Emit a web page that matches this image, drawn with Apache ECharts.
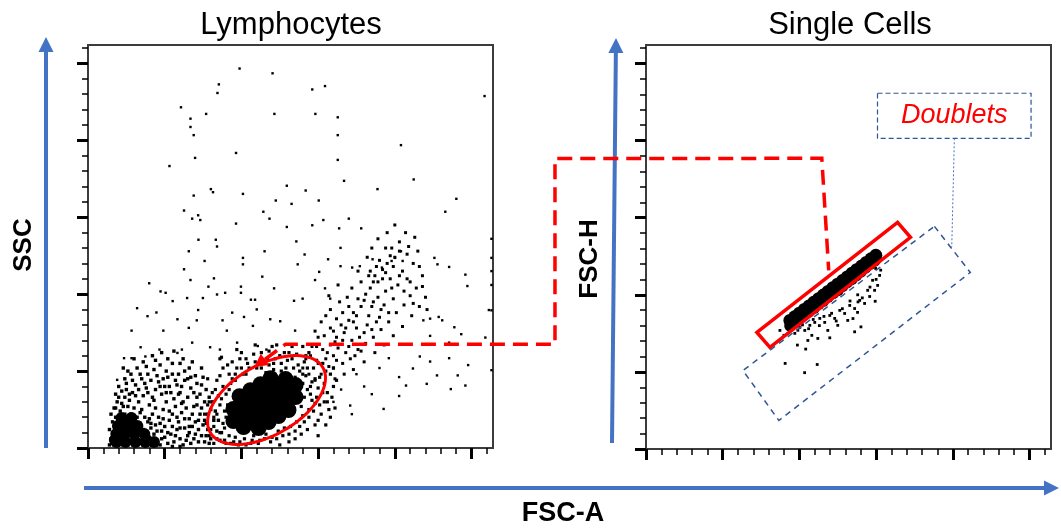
<!DOCTYPE html>
<html><head><meta charset="utf-8">
<script src="https://cdn.jsdelivr.net/npm/echarts@6/dist/echarts.min.js"></script>
<style>html,body{margin:0;padding:0;background:#fff}#c{width:1061px;height:530px}</style>
</head><body><div id="c"></div>
<script>
// ---- axis ticks (K units) ----
const majorTicks = [0, 50, 100, 150, 200, 250];
const minorTicks = [10,20,30,40,60,70,80,90,110,120,130,140,160,170,180,190,210,220,230,240,260];
const axisMaxX = 264, axisMaxY = 262;

// ---- Lymphocytes plot (FSC-A vs SSC) ----
const lymphCore = [[94.8,17.5],[101.4,21.4],[108.6,25.3],[115.1,29.2],[121.6,33.1],[128.8,37.0],[135.3,40.9],
 [101.4,13.6],[108.6,17.5],[115.1,21.4],[121.6,25.3],[128.8,29.2],[135.3,33.1],
 [94.8,25.3],[102.0,29.2],[108.6,33.1],[115.1,37.0],[122.3,40.9],[128.8,44.8],
 [111.2,13.0],[117.7,16.9],[124.2,20.8],[130.7,24.7],[98.8,33.7],[105.9,37.6],[112.5,41.5],[119.0,45.4]];
const debrisCore = [[18.5,3.9],[24.4,3.9],[30.9,3.9],[37.4,3.9],[43.0,3.9],[18.5,9.1],[23.7,9.1],[30.2,9.1],[36.7,9.1],
 [19.5,14.3],[25.7,14.3],[32.2,14.3],[21.8,19.5],[28.3,19.5],[17.5,5.2]];
const debrisHalo = [[14,2],[15,6],[14,12],[16,17],[15,22],[17,26],[19,30],[18,35],[21,24],[22,29],[24,33],[26,27],[28,22],[30,26],[27,31],[25,38],[29,36],[31,41],[33,30],[35,25],[37,20],[39,17],[41,13],[43,9],[45,5],[47,2],[42,3],[44,15],[46,20],[48,11],[50,7],[52,3],[54,9],[56,4],[58,12],[60,6],[62,2],[49,25],[51,30],[53,18],[55,22],[57,27],[59,17],[61,23],[63,13],[65,8],[67,3],[36,34],[38,39],[40,28],[42,33],[44,38],[46,43],[48,35],[50,40],[52,46],[54,36],[56,32],[58,41],[60,36],[62,30],[64,26],[66,19],[68,14],[70,9],[72,4],[35,45],[39,48],[43,51],[47,54],[51,50],[55,55],[59,48],[63,44],[67,39],[71,33],[69,27],[73,22],[75,15],[77,8],[79,3],[20,40],[24,45],[28,48],[32,52],[23,52],[30,58],[36,56],[42,60],[48,62],[56,63],[62,58],[66,52],[70,47],[74,41],[76,30],[80,25],[82,18],[84,11],[86,5],[33,10],[27,8],[21,6],[19,14],[37,6],[34,16],
 [16,10],[18,20],[20,18],[22,12],[24,22],[26,17],[28,14],[29,19],[32,20],[34,23],[36,12],[38,10],[40,7],[40,19],[42,22],[44,26],[45,11],[47,16],[49,19],[50,14],[52,10],[53,24],[55,14],[57,8],[58,20],[60,13],[61,29],[63,19],[64,5],[65,33],[66,10],[68,22],[69,6],[70,17],[71,28],[72,12],[74,8],[74,26],[76,4],[76,18],[78,12],[78,22],[80,6],[18,26],[20,33],[22,37],[23,27],[25,42],[27,35],[29,44],[31,34],[33,38],[34,48],[37,42],[39,36],[41,44],[43,31],[45,47],[47,40],[49,45],[51,36],[53,40],[55,48],[57,44],[59,35],[61,40],[63,50],[65,45],[67,46],[69,36],[71,42],[73,35],[75,46],[77,38],[79,33],[81,30],[83,24],[85,18],[87,10],[89,5],[26,50],[38,53],[44,57],[52,58],[60,55],[68,56],[74,52],[27,4],[32,6],[35,3],[41,16],[48,6],[55,1],[60,1],[66,14],[72,18]];
const lymphHalo = [[80,12],[82,20],[84,6],[86,28],[88,16],[90,3],[90,35],[92,8],[93,42],[95,4],[96,48],[98,2],[100,52],[102,6],[104,55],[106,3],[108,8],[110,52],[112,5],[114,57],[116,9],[118,54],[120,7],[122,58],[124,11],[126,55],[128,13],[130,57],[132,14],[134,52],[136,17],[138,50],[140,21],[142,47],[144,25],[146,43],[148,29],[150,39],[145,35],[141,33],[143,12],[139,9],[135,6],[148,15],[152,22],[154,30],[156,36],[151,46],[147,52],[141,56],[136,61],[128,62],[118,63],[108,61],[99,58],[91,54],[86,47],[83,38],[79,30],[76,22],[78,45],[87,59],[97,64],[109,67],[123,67],[133,66],[144,62],[153,55],[158,48],[160,40],[157,25],[150,8],[131,4],[125,2],[104,13],[98,12],[89,24],[137,40],[140,42],[135,46],[92,48],[96,44],[88,40],[85,34],[121,51],[126,50],[116,49],[103,48],[143,38],[146,31],[139,27],
 [82,14],[84,22],[86,10],[87,32],[89,13],[90,20],[91,28],[92,38],[93,3],[94,45],[96,7],[97,52],[99,4],[101,48],[103,2],[105,52],[107,5],[109,56],[111,3],[113,52],[115,6],[117,58],[119,4],[121,55],[123,6],[125,60],[127,8],[129,52],[131,9],[133,58],[135,11],[137,54],[138,14],[140,48],[141,17],[143,52],[144,20],[145,40],[147,24],[148,45],[149,33],[150,18],[151,28],[153,36],[154,42],[155,15],[156,30],[158,20],[159,33],[161,26],[162,44],[155,50],[149,57],[142,60],[131,62],[113,62],[103,58],[94,56],[88,52],[84,44],[81,36],[78,28],[77,16],[79,8],[82,3],[86,58],[100,62],[120,66],[140,66],[160,52]];
const bandCells = [[150,55],[155,58],[160,60],[153,64],[158,67],[163,65],[168,62],[162,72],[167,75],[172,70],[165,80],[170,83],[175,78],[180,75],[173,88],[178,92],[183,86],[188,82],[176,97],[181,100],[186,95],[191,90],[184,104],[189,108],[194,102],[199,97],[187,112],[192,116],[197,110],[202,106],[195,120],[200,124],[205,115],[208,110],[198,130],[203,134],[208,126],[212,120],[160,52],[166,55],[171,58],[176,64],[181,68],[186,72],[191,77],[196,82],[201,88],[206,93],[210,99],[214,104],[170,92],[166,88],[162,84],[158,78],[154,73],[149,66],[145,60],[161,45],[167,48],[173,51],[180,56],[187,62],[193,67],[199,73],[205,79],[211,86],[216,92],[178,108],[184,115],[190,122],[182,124],[176,115],[172,104],[169,98],[194,130],[189,136],[207,140],[215,128],[218,112],[220,98],[164,95],[158,90],[152,82],[148,76],[157,99],[163,106],
 [152,48],[157,53],[162,57],[156,62],[161,69],[166,70],[170,66],[174,60],[178,63],[168,78],[173,82],[177,72],[182,80],[185,77],[190,85],[175,86],[180,96],[185,92],[189,98],[193,93],[196,88],[198,104],[192,110],[186,108],[183,112],[188,118],[194,114],[199,118],[203,112],[206,102],[210,108],[212,94],[203,128],[197,125],[209,131],[213,137],[195,140],[185,130],[200,145],[216,118],[218,105],[221,90],[160,76],[155,86],[150,72],[146,66],[142,58],[140,52],[144,48],[148,44]];
const sparseCells = [[98.8,246.7],[120.3,243.6],[85.3,236.4],[84.4,230.8],[146.2,233.1],[154.5,235.3],[258.5,228.8],[60.6,221.5],[77,217.2],[121.5,217.2],[148.2,217.2],[162.8,215],[66.8,214.1],[66.8,208.7],[68.9,203.4],[162.8,203.4],[204,196.9],[96.5,191.8],[69.8,188.6],[162.8,187.3],[53.1,183.3],[166.9,173.7],[212.3,174.6],[129.6,170.5],[80.1,168.3],[81.5,166.3],[141.9,167.4],[101,165.2],[68.9,164.1],[188.7,168.3],[122.4,160.9],[150.4,160.9],[132.7,158.7],[240.1,162],[62.6,154.4],[114.3,153.6],[232.9,153.6],[67.9,149.1],[71.8,151.3],[73.2,148.2],[118.3,149.1],[153.4,148.2],[170,149.1],[96.5,145.9],[129.6,143.7],[146.2,144.8],[163.7,142.8],[178.1,142.8],[72,135.4],[83.3,135.4],[84.1,131],[135.8,134.3],[65.7,127.9],[115.1,127.9],[164.6,130.1],[204,127.9],[76,121.6],[101,123.6],[101,119.4],[141.2,125.8],[136.7,119.4],[156.5,122.7],[164.6,118.2],[172.2,117.3],[177.2,118.2],[185.5,122.7],[191.6,117.3],[197.9,121.6],[200.1,123.6],[205.1,121.6],[225.8,123.6],[227.8,119.4],[263,136],[263,123.6],[263,115],[62.6,116.2],
 [39.9,107.1],[66.8,109.2],[78.5,104.9],[82.1,110.3],[47.3,101.8],[50.6,100.9],[55.2,95.5],[64.6,97.5],[74.9,97.5],[84.1,99.8],[89.4,100.9],[99.7,104.9],[99.7,100.9],[106.2,96.4],[108.9,96.4],[113.6,111.4],[121.3,103.8],[32,90.9],[38.8,85.7],[44.6,88.1],[49.1,76.3],[58.3,83.7],[65.7,78.1],[71.8,89.7],[70.9,83],[87.7,83],[90.5,76.3],[94,88],[101.7,85.2],[110,90.1],[107.5,79.4],[118.8,83.7],[125.3,82.4],[134.3,95.7],[139.9,97.1],[148,109.2],[150.7,114.5],[154.5,103.8],[157.9,97.1],[135,76.3],[28.4,76.3],[34.3,65.5],[28.4,58.4],[23.5,58.4],[19,44.3],[37.4,59.5],[46.6,64],[58.3,61.8],[61.2,64],[67.9,68.5],[79.6,65.5],[86,64],[97.2,68.5],[110.7,66.3],[116.3,64],[196.1,58.4],[202.8,46.1],[202.8,33.8],[192.7,25.4],[170.9,27.6],[207.3,40.6],[216.3,59.5],[223,56.2],[211.8,51.7],[220.8,41.7],[227.5,47.2],[236.5,38.3],[241,47.2],[246,40.6],[235.4,58.4],[247.8,53.9],[235.4,68.5],[238.8,78.5],[223,72.9],[230.9,83],[243.3,74],[259,71.8],[261.3,89.7],[223,84.1],[218.6,83],[228.6,85.2],[246,112.7],[247.3,105.3],[235.4,117.7],[263,50.6],[263,106],[263,89.5],
 [180,40],[185,35],[175,48],[190,52],[165,38],[160,30],[172,22]];

// ---- Single Cells plot (FSC-A vs FSC-H) ----
const singletCore = [[93.8,83.4],[96.9,85.7],[100.0,88.1],[103.2,90.5],[106.3,92.8],[109.3,95.1],[112.5,97.5],[115.6,99.8],[118.7,102.2],[121.8,104.6],[124.9,106.9],[128.1,109.2],[131.2,111.6],[134.2,113.9],[137.3,116.3],[140.5,118.6],[143.6,121.0],[146.7,123.3],[149.8,125.6]];
const singletEdge = [[94,80],[97,82],[100,84.5],[103,87],[106,89],[109.5,91.5],[112.5,94],[115.5,96],[118.5,98.5],[122,101],[125,103],[128,105.5],[131,108],[134,110],[137,112.5],[140,115],[143,117.5],[146,120],[149,122]];
const singletDust = [[93.8,76.9],[97.0,75.0],[100.3,78.9],[103.5,76.9],[106.8,80.2],[110.0,82.1],[108.1,73.7],[113.3,84.7],[116.5,82.1],[119.8,86.6],[123.0,84.7],[126.3,89.9],[129.5,87.9],[132.8,93.1],[136.0,91.1],[139.3,96.4],[142.5,94.4],[145.8,98.9],[149.0,102.9],[151.0,106.1],[144.5,102.9],[137.9,88.6],[131.5,83.4],[125.0,80.2],[118.5,76.9],[112.0,71.7],[105.5,70.4],[152.3,112.6],[149.7,117.1],[147.7,109.4],[87.3,76.9],[89.9,73.7],
 [90.7,55.5],[111.6,54.8],[103.4,49.5],[104.1,64.8],[98.7,67.4],[119.8,72.1],[136,76],[140.1,79.2],[134.9,84.6],[149.4,95.8],[138.2,95.4],
 [95,78.5],[99,77],[102,80.5],[106,78],[109,84],[113,80],[116,86],[121,88],[124,83],[128,91],[133,96],[138,100],[141,98],[146,105],[150,110],[153,116]];

// ---- gates / annotations (data units) ----
const lymphGateCenter = [116.4, 31.2];
const singletGate = [[72.3,75.6],[164,147],[172.4,137.3],[80.8,65.9]];
const doubletGate = [[188,144.4],[211.4,114.5],[86.6,18.5],[63.2,50.9]];
const doubletBox = [[150.9,230.7],[251,201.5]];
const doubletPointer = [[201,201.5],[199.3,131]];
const connector = [[0,108.5,52.6],[0,128.8,67.5],[0,304.4,67.5],[0,304.4,188.2],[1,114.6,188.5],[1,119.1,115.8]];

const FONT = "'Liberation Sans', Arial, sans-serif";
const chart = echarts.init(document.getElementById('c'), null, {renderer: 'canvas'});

function axesFor(gi, isX) {
  const base = {
    gridIndex: gi, type: 'value', min: 0, max: isX ? axisMaxX : axisMaxY,
    position: isX ? 'bottom' : 'left',
    axisLabel: {show: false}, splitLine: {show: false},
  };
  return [
    Object.assign({}, base, {
      axisLine: {show: true, lineStyle: {color: '#3c3c3c', width: 2}},
      axisTick: {show: true, length: 11, lineStyle: {color: '#000', width: 3}, customValues: majorTicks}
    }),
    Object.assign({}, base, {
      axisLine: {show: false},
      axisTick: {show: true, length: 6, lineStyle: {color: '#000', width: 1.5}, customValues: minorTicks}
    })
  ];
}

function sc(gi, data, size, symbol) {
  return {type: 'scatter', xAxisIndex: gi * 2, yAxisIndex: gi * 2, data: data,
    symbol: symbol || 'rect', symbolSize: size, itemStyle: {color: '#000', opacity: 1},
    silent: true, animation: false, clip: false};
}

chart.setOption({
  animation: false,
  grid: [
    {left: 88, top: 45, width: 405, height: 403, show: true, borderColor: '#3c3c3c', borderWidth: 2},
    {left: 646, top: 45, width: 405, height: 404, show: true, borderColor: '#3c3c3c', borderWidth: 2}
  ],
  xAxis: [...axesFor(0, true), ...axesFor(1, true)],
  yAxis: [...axesFor(0, false), ...axesFor(1, false)],
  series: [
    sc(0, sparseCells, 2.4), sc(0, debrisHalo, 3.4), sc(0, lymphHalo, 3.2), sc(0, bandCells, 3),
    sc(0, debrisCore, 12, 'circle'), sc(0, lymphCore, 16, 'circle'),
    sc(1, singletDust, 2.8), sc(1, singletEdge, 12, 'circle'), sc(1, singletCore, 13, 'circle')
  ]
});

function px(gi, p) { return chart.convertToPixel({xAxisIndex: gi * 2, yAxisIndex: gi * 2}, p); }

const g = [];
const RED = '#ff0000', BLUE = '#4472c4';
// lymphocyte ellipse gate
(function () {
  const c = px(0, lymphGateCenter), a = 65, b = 35, phi = Math.PI / 6, pts = [];
  for (let i = 0; i < 96; i++) {
    const t = i / 96 * Math.PI * 2;
    pts.push([c[0] + a * Math.cos(t) * Math.cos(phi) - b * Math.sin(t) * Math.sin(phi),
              c[1] - (a * Math.cos(t) * Math.sin(phi) + b * Math.sin(t) * Math.cos(phi))]);
  }
  g.push({type: 'polygon', z: 100, shape: {points: pts}, style: {fill: 'none', stroke: RED, lineWidth: 3}});
})();
// singlet gate
g.push({type: 'polygon', z: 100, shape: {points: singletGate.map(p => px(1, p))},
  style: {fill: 'none', stroke: RED, lineWidth: 3.5}});
// doublet gate
g.push({type: 'polygon', z: 100, shape: {points: doubletGate.map(p => px(1, p))},
  style: {fill: 'none', stroke: '#2f5597', lineWidth: 1.5, lineDash: [6, 5]}});
// doublet label box
(function () {
  const p1 = px(1, doubletBox[0]), p2 = px(1, doubletBox[1]);
  g.push({type: 'rect', z: 100, shape: {x: p1[0], y: p1[1], width: p2[0] - p1[0], height: p2[1] - p1[1]},
    style: {fill: 'none', stroke: '#2f5597', lineWidth: 1.2, lineDash: [5, 3]}});
  g.push({type: 'text', z: 101, x: (p1[0] + p2[0]) / 2, y: (p1[1] + p2[1]) / 2,
    style: {text: 'Doublets', font: 'italic 27px ' + FONT, fill: RED, align: 'center', verticalAlign: 'middle'}});
  const q1 = px(1, doubletPointer[0]), q2 = px(1, doubletPointer[1]);
  g.push({type: 'line', z: 100, shape: {x1: q1[0], y1: q1[1], x2: q2[0], y2: q2[1]},
    style: {stroke: BLUE, lineWidth: 1, lineDash: [2, 2]}});
})();
// connector dashed red line with arrowhead
(function () {
  const pts = connector.map(c => px(c[0], [c[1], c[2]]));
  const tip = pts[0], nx = pts[1][0] - tip[0], ny = pts[1][1] - tip[1], L = Math.hypot(nx, ny);
  const ux = nx / L, uy = ny / L, hl = 13, hw = 7;
  const base = [tip[0] + ux * hl, tip[1] + uy * hl];
  const line = pts.slice(); line[0] = base;
  g.push({type: 'polyline', z: 100, shape: {points: line},
    style: {fill: 'none', stroke: RED, lineWidth: 3.5, lineDash: [15, 8]}});
  g.push({type: 'polygon', z: 100, shape: {points: [tip, [base[0] - uy * hw, base[1] + ux * hw], [base[0] + uy * hw, base[1] - ux * hw]]},
    style: {fill: RED}});
})();
// blue axis arrows
function arrow(x1, y1, x2, y2) {
  const L = Math.hypot(x2 - x1, y2 - y1), ux = (x2 - x1) / L, uy = (y2 - y1) / L, hl = 15, hw = 7.5;
  const bx = x2 - ux * hl, by = y2 - uy * hl;
  g.push({type: 'line', z: 90, shape: {x1: x1, y1: y1, x2: bx + ux, y2: by + uy}, style: {stroke: BLUE, lineWidth: 4}});
  g.push({type: 'polygon', z: 90, shape: {points: [[x2, y2], [bx - uy * hw, by + ux * hw], [bx + uy * hw, by - ux * hw]]}, style: {fill: BLUE}});
}
arrow(46, 448, 46, 37);
arrow(612, 443, 616, 38);
arrow(84, 488, 1059, 488);
// texts
function txt(t, x, y, font, rot) {
  g.push({type: 'text', z: 100, x: x, y: y, rotation: rot || 0,
    style: {text: t, font: font, fill: '#000', align: 'center', verticalAlign: 'middle'}});
}
txt('Lymphocytes', 291, 25, '31px ' + FONT);
txt('Single Cells', 850, 25, '31px ' + FONT);
txt('SSC', 24, 245, 'bold 26px ' + FONT, Math.PI / 2);
txt('FSC-H', 590, 259, 'bold 26px ' + FONT, Math.PI / 2);
txt('FSC-A', 563, 514, 'bold 27px ' + FONT);

chart.setOption({graphic: g});
</script></body></html>
